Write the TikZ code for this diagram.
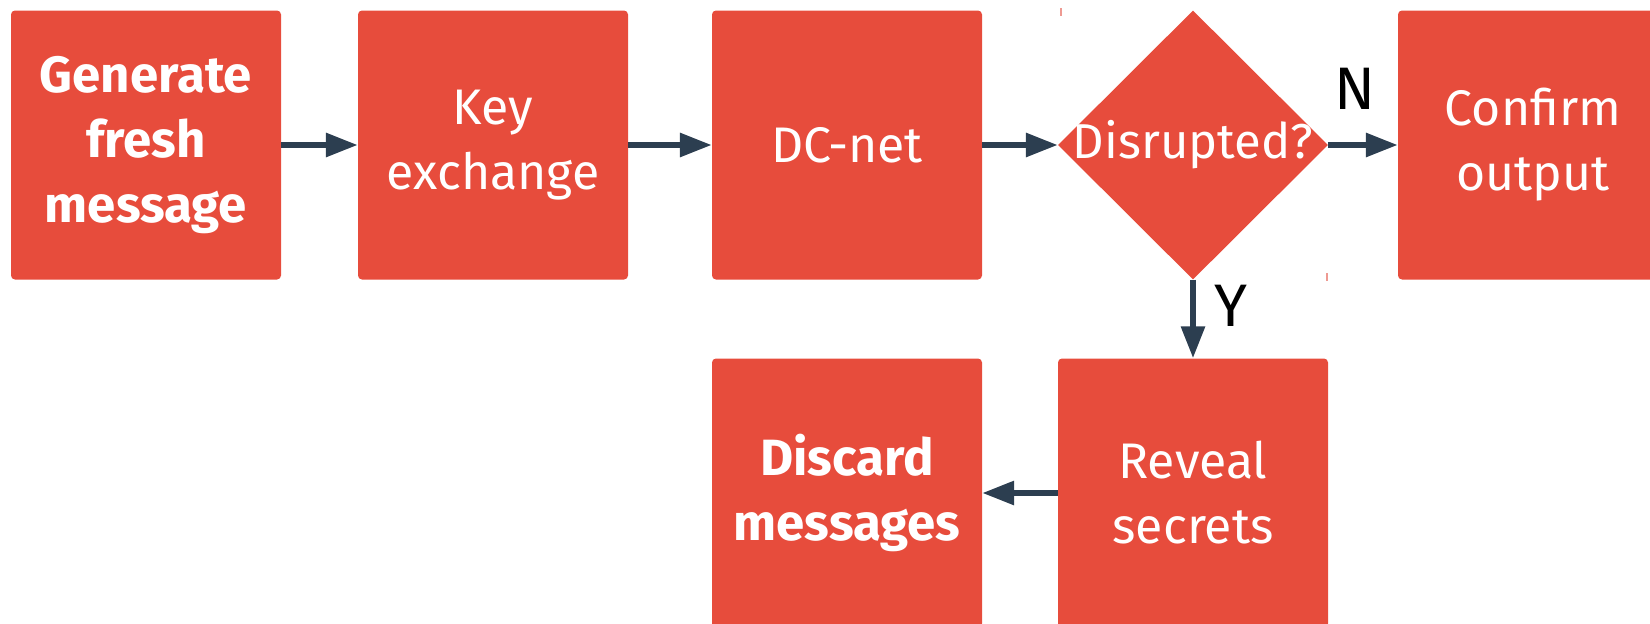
\documentclass[tikz,border=0pt]{standalone}
\usepackage{fontspec}
\setmainfont{Fira Sans}
\newfontfamily\labelfont{Fira Sans}
\usetikzlibrary{shapes.geometric,arrows.meta}
\definecolor{boxred}{HTML}{E74C3C}
\definecolor{arrownavy}{HTML}{2C3E50}
\definecolor{tickpink}{HTML}{EE9A92}
\newcommand\boldstep[1]{{\fontsize{51}{65}\selectfont\bfseries #1}}
\tikzset{
  stepbox/.style={rectangle, fill=boxred, rounded corners=4pt, minimum width=270pt,
    minimum height=269pt, inner sep=0pt, text=white, align=center,
    font=\fontsize{50}{65}\selectfont},
  decision/.style={diamond, fill=boxred, minimum width=270pt, minimum height=269pt,
    inner sep=0pt},
  flow/.style={draw=arrownavy, line width=6pt,
    -{Triangle[length=32pt, width=23pt]}},
  branch/.style={text=black, anchor=center, font=\labelfont\fontsize{60}{60}\selectfont},
}
\begin{document}
\begin{tikzpicture}[x=1pt, y=-1pt]
  \useasboundingbox (0,0) rectangle (1650,624);
  \clip (0,0) rectangle (1650,624);

  % top row
  \node[stepbox] (gen)  at (146,145)  {\boldstep{Generate}\\\boldstep{fresh}\\\boldstep{message}};
  \node[stepbox] (key)  at (493,145)  {Key\\exchange};
  \node[stepbox] (dc)   at (847,145)  {DC-net};
  \node[decision, label={[text=white, font=\fontsize{49}{60}\selectfont]center:Disrupted?}] (dis) at (1193,145) {};
  \node[stepbox] (conf) at (1533,145) {Confirm\\output};

  % bottom row
  \node[stepbox] (disc) at (847,493)  {\boldstep{Discard}\\\boldstep{messages}};
  \node[stepbox] (rev)  at (1193,493) {Reveal\\secrets};

  % corner ticks of the decision frame
  \draw[tickpink, line width=1.5pt] (1061,8) -- (1061,16);
  \draw[tickpink, line width=1.5pt] (1327,273) -- (1327,281);

  % connectors
  \draw[flow] (gen.east) -- (key.west);
  \draw[flow] (key.east) -- (dc.west);
  \draw[flow] (dc.east) -- (dis.west);
  \draw[flow] (dis.east) -- node[branch, xshift=-8pt, yshift=56pt] {N} (conf.west);
  \draw[flow] (dis.south) -- node[branch, xshift=38pt, yshift=13pt] {Y} (rev.north);
  \draw[flow] (rev.west) -- (disc.east);
\end{tikzpicture}
\end{document}
